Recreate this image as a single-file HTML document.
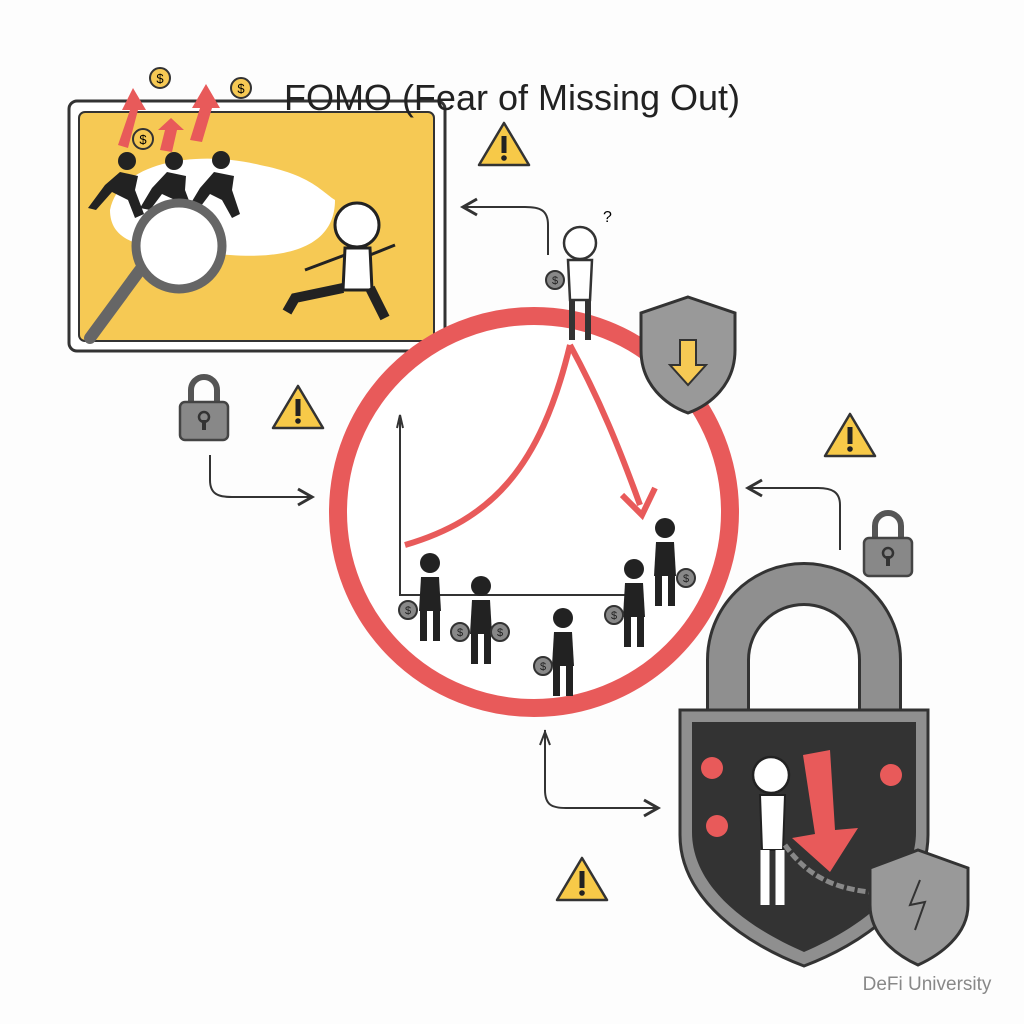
<!DOCTYPE html>
<html><head><meta charset="utf-8"><style>
html,body{margin:0;padding:0;background:#fdfdfd;}
svg{display:block}
</style></head><body>
<svg width="1024" height="1024" viewBox="0 0 1024 1024" xmlns="http://www.w3.org/2000/svg">
<defs>
<marker id="ah" markerWidth="10" markerHeight="10" refX="8" refY="5" orient="auto"><path d="M1,1 L8,5 L1,9" fill="none" stroke="#333" stroke-width="1.5"/></marker>
<g id="warn"><path d="M0,-22 L25,20 L-25,20 Z" fill="#f7c948" stroke="#333" stroke-width="2.5" stroke-linejoin="round"/><rect x="-2.5" y="-9" width="5" height="17" fill="#222"/><circle cx="0" cy="13" r="2.8" fill="#222"/></g>
<g id="lock"><path d="M-13,0 V-12 A13,13 0 0 1 13,-12 V0" fill="none" stroke="#555" stroke-width="6"/><rect x="-24" y="0" width="48" height="38" rx="5" fill="#888" stroke="#444" stroke-width="2.5"/><circle cx="0" cy="15" r="5" fill="none" stroke="#333" stroke-width="2.5"/><rect x="-2" y="18" width="4" height="10" fill="#333"/></g>
<g id="person"><circle cx="0" cy="-34" r="10" fill="#222"/><path d="M-9,-20 H9 L11,14 H-11 Z" fill="#222"/><rect x="-10" y="12" width="7" height="32" fill="#222"/><rect x="3" y="12" width="7" height="32" fill="#222"/></g>
<g id="bag"><circle cx="0" cy="0" r="9" fill="#888" stroke="#333" stroke-width="2"/><text x="0" y="4" font-family="Liberation Sans" font-size="11" text-anchor="middle" fill="#222">$</text></g>
</defs>

<rect x="69" y="101" width="376" height="250" rx="8" fill="#fff" stroke="#333" stroke-width="3"/>
<rect x="79" y="112" width="355" height="229" rx="6" fill="#f6c954" stroke="#333" stroke-width="2"/>
<path d="M110,210 C120,160 200,150 260,165 C310,175 320,190 335,200 C335,240 300,260 230,255 C160,250 110,250 110,210 Z" fill="#fff"/>
<path d="M118,145 L130,110 L122,110 L133,88 L146,110 L138,110 L128,148 Z" fill="#e85a5a"/>
<path d="M160,150 L165,130 L158,130 L171,118 L184,130 L177,130 L172,152 Z" fill="#e85a5a"/>
<path d="M190,140 L200,108 L192,108 L206,84 L220,108 L212,108 L202,142 Z" fill="#e85a5a"/>
<circle cx="160" cy="78" r="10" fill="#f6c954" stroke="#333" stroke-width="2"/><text x="160" y="83" font-family="Liberation Sans" font-size="13" text-anchor="middle">$</text>
<circle cx="241" cy="88" r="10" fill="#f6c954" stroke="#333" stroke-width="2"/><text x="241" y="93" font-family="Liberation Sans" font-size="13" text-anchor="middle">$</text>
<circle cx="143" cy="139" r="10" fill="#f6c954" stroke="#333" stroke-width="2"/><text x="143" y="144" font-family="Liberation Sans" font-size="13" text-anchor="middle">$</text>
<g fill="#222"><circle cx="127" cy="161" r="9"/><circle cx="174" cy="161" r="9"/><circle cx="221" cy="160" r="9"/>
<path d="M120,172 L105,185 L88,208 L96,210 L112,192 L128,200 L135,218 L144,214 L135,190 L138,176 Z"/>
<path d="M167,172 L152,188 L140,208 L150,210 L162,194 L175,200 L185,218 L194,214 L185,190 L186,176 Z"/>
<path d="M214,172 L200,188 L188,208 L198,210 L210,194 L222,200 L232,218 L240,214 L232,190 L234,176 Z"/></g>
<line x1="140" y1="270" x2="90" y2="338" stroke="#666" stroke-width="12" stroke-linecap="round"/>
<circle cx="179" cy="246" r="43" fill="#fff" stroke="#666" stroke-width="9"/>
<circle cx="357" cy="225" r="22" fill="#fff" stroke="#222" stroke-width="3"/>
<path d="M345,248 H370 L372,290 H343 Z" fill="#fff" stroke="#222" stroke-width="3"/>
<path d="M343,288 L295,298 L287,312 M370,288 L385,318" stroke="#222" stroke-width="10" fill="none"/>
<path d="M370,255 L395,245 M345,255 L305,270" stroke="#222" stroke-width="3" fill="none"/>

<text x="512" y="110" font-family="Liberation Sans, sans-serif" font-size="36" text-anchor="middle" fill="#222">FOMO (Fear of Missing Out)</text>

<circle cx="534" cy="512" r="196" fill="#fff" stroke="#e85a5a" stroke-width="18"/>
<path d="M400,420 V595 H625" fill="none" stroke="#333" stroke-width="2"/>
<path d="M397,428 L400,415 L403,428" fill="none" stroke="#333" stroke-width="2"/>
<path d="M405,545 C490,520 540,470 570,345" fill="none" stroke="#e85a5a" stroke-width="6"/>
<path d="M570,345 C600,400 620,450 640,505" fill="none" stroke="#e85a5a" stroke-width="6"/>
<path d="M622,495 L642,515 L655,488" fill="none" stroke="#e85a5a" stroke-width="6"/>
<use href="#person" x="430" y="597"/><use href="#bag" x="408" y="610"/>
<use href="#person" x="481" y="620"/><use href="#bag" x="460" y="632"/><use href="#bag" x="500" y="632"/>
<use href="#person" x="563" y="652"/><use href="#bag" x="543" y="666"/>
<use href="#person" x="634" y="603"/><use href="#bag" x="614" y="615"/>
<use href="#person" x="665" y="562"/><use href="#bag" x="686" y="578"/>
<circle cx="580" cy="243" r="16" fill="#fff" stroke="#333" stroke-width="2.5"/>
<path d="M568,260 H592 L590,300 H570 Z" fill="#fff" stroke="#333" stroke-width="2.5"/>
<path d="M572,300 V340 M588,300 V340" stroke="#333" stroke-width="6"/>
<use href="#bag" x="555" y="280"/>
<text x="603" y="222" font-family="Liberation Sans" font-size="16">?</text>
<path d="M688,297 L735,313 V350 C735,385 710,405 688,413 C666,405 641,385 641,350 V313 Z" fill="#999" stroke="#333" stroke-width="3"/>
<path d="M680,340 H696 V365 H706 L688,385 L670,365 H680 Z" fill="#f6c954" stroke="#333" stroke-width="2"/>

<use href="#warn" x="504" y="145"/><use href="#warn" x="298" y="408"/><use href="#warn" x="850" y="436"/><use href="#warn" x="582" y="880"/>
<use href="#lock" x="204" y="402"/><use href="#lock" x="888" y="538"/>
<path d="M548,255 V225 C548,210 540,207 525,207 H463" fill="none" stroke="#333" stroke-width="2" marker-end="url(#ah)"/>
<path d="M210,455 V480 C210,494 218,497 232,497 H312" fill="none" stroke="#333" stroke-width="2" marker-end="url(#ah)"/>
<path d="M840,550 V505 C840,492 832,488 818,488 H748" fill="none" stroke="#333" stroke-width="2" marker-end="url(#ah)"/>
<path d="M545,730 V790 C545,805 552,808 566,808 H658" fill="none" stroke="#333" stroke-width="2" marker-end="url(#ah)"/>
<path d="M540,745 L545,732 L550,745" fill="none" stroke="#333" stroke-width="2"/>

<path d="M728,710 V660 A76,76 0 0 1 880,660 V710" fill="none" stroke="#333" stroke-width="44"/>
<path d="M728,710 V660 A76,76 0 0 1 880,660 V710" fill="none" stroke="#8f8f8f" stroke-width="38"/>
<path d="M680,710 H928 V835 C928,900 860,945 804,966 C748,945 680,900 680,835 Z" fill="#8f8f8f" stroke="#333" stroke-width="3"/>
<path d="M692,722 H916 V832 C916,890 855,930 804,952 C753,930 692,890 692,832 Z" fill="#333"/>
<circle cx="712" cy="768" r="11" fill="#e85a5a"/><circle cx="717" cy="826" r="11" fill="#e85a5a"/><circle cx="891" cy="775" r="11" fill="#e85a5a"/>
<circle cx="771" cy="775" r="18" fill="#fff" stroke="#222" stroke-width="2.5"/>
<path d="M760,795 H785 L783,850 H762 Z" fill="#fff" stroke="#222" stroke-width="2"/>
<path d="M765,850 V905 M780,850 V905" stroke="#fff" stroke-width="9"/>
<path d="M803,755 L830,750 L835,830 L858,828 L830,872 L792,838 L815,834 Z" fill="#e85a5a"/>
<path d="M785,845 C810,880 840,890 880,893" fill="none" stroke="#888" stroke-width="5" stroke-dasharray="8 3"/>
<path d="M918,850 L968,868 V905 C968,935 940,955 918,965 C896,955 870,935 870,905 V868 Z" fill="#999" stroke="#333" stroke-width="3"/>
<path d="M920,880 L910,905 L925,902 L915,930" fill="none" stroke="#333" stroke-width="2"/>

<text x="927" y="990" font-family="Liberation Sans, sans-serif" font-size="19" text-anchor="middle" fill="#888">DeFi University</text>
</svg>
</body></html>
